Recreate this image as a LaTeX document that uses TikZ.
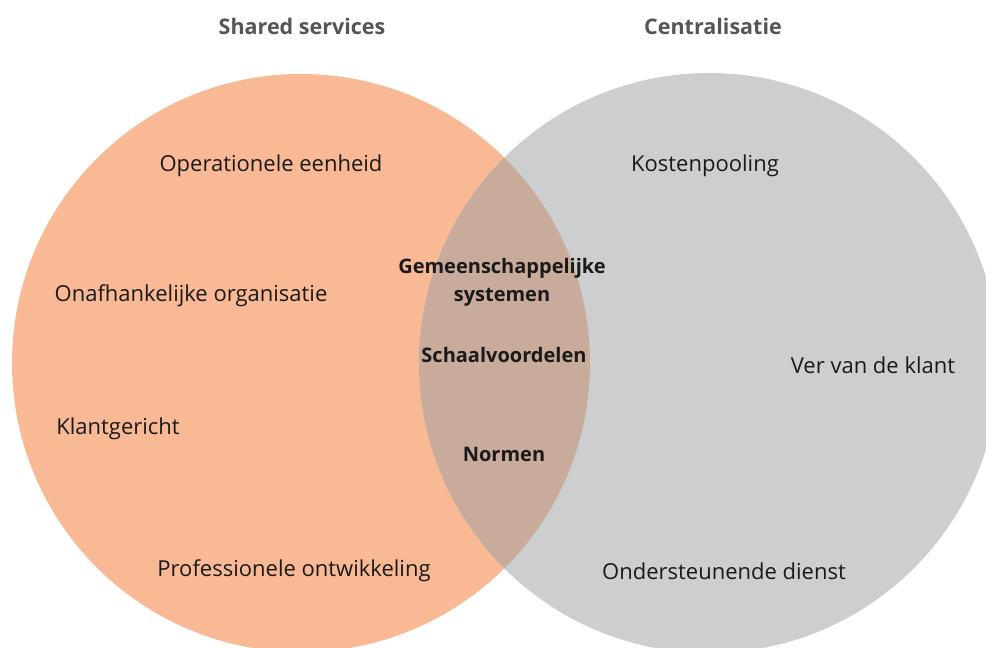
\documentclass[tikz,border=0pt]{standalone}
\usepackage{fontspec}
\setmainfont{Open Sans}
\definecolor{orangefill}{HTML}{F8B994}
\definecolor{greyfill}{HTML}{CDCED0}
\definecolor{overlapfill}{HTML}{C9AB9B}
\definecolor{titlegrey}{HTML}{555555}
\definecolor{txt}{HTML}{1A1A1A}
\tikzset{
  x=1pt,y=-1pt,
  title/.style={font=\fontsize{21.5}{24}\selectfont\bfseries, text=titlegrey, inner sep=0pt},
  lbl/.style={font=\fontsize{22}{26}\selectfont, text=txt, inner sep=0pt},
  blbl/.style={font=\fontsize{20}{28}\selectfont\bfseries, text=txt, inner sep=0pt, align=center},
}
\begin{document}
\begin{tikzpicture}
\useasboundingbox (0,0) rectangle (986,648);
\begin{scope}
\clip (0,0) rectangle (986,648);
\fill[orangefill] (301,363) circle (289);
\fill[greyfill] (709,363) circle (290);
\begin{scope}
\clip (301,363) circle (289);
\fill[overlapfill] (709,363) circle (290);
\end{scope}
\end{scope}
\node[title] (t1) at (302,26) {Shared services};
\node[title] (t2) at (713,26) {Centralisatie};
\node[lbl] (a1) at (271,166) {Operationele eenheid};
\node[lbl] (a2) at (191,296) {Onafhankelijke organisatie};
\node[lbl] (a3) at (118,429) {Klantgericht};
\node[lbl] (a4) at (294,571) {Professionele ontwikkeling};
\node[lbl] (b1) at (705,166) {Kostenpooling};
\node[lbl] (b2) at (873,365) {Ver van de klant};
\node[lbl] (b3) at (724,571) {Ondersteunende dienst};
\node[blbl] (c1) at (502,282) {Gemeenschappelijke\\systemen};
\node[blbl] (c2) at (504,355) {Schaalvoordelen};
\node[blbl] (c3) at (504,454) {Normen};
\end{tikzpicture}
\end{document}
